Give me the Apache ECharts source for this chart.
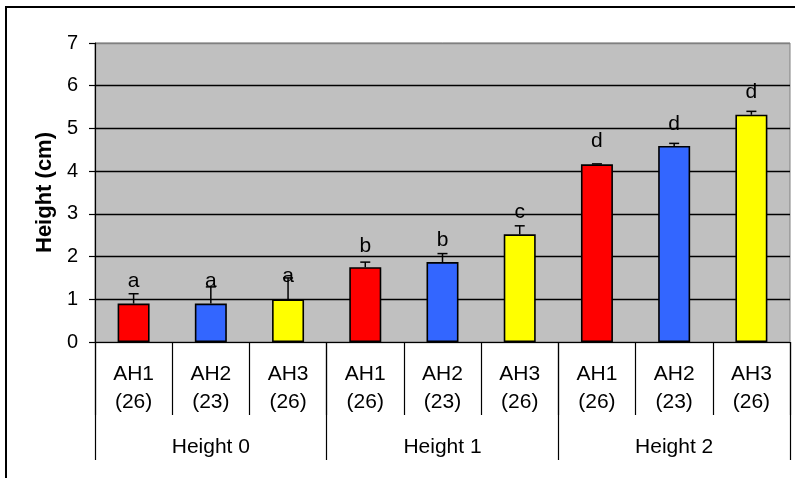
<!DOCTYPE html>
<html>
<head>
<meta charset="utf-8">
<script src="https://cdn.jsdelivr.net/npm/echarts@6/dist/echarts.min.js"></script>
<style>
    html, body { margin: 0; padding: 0; background: #fff; }
    #chart { width: 795px; height: 478px; }
</style>
</head>
<body>
<div id="chart"></div>
<script>
// data
var groups = ['Height 0', 'Height 1', 'Height 2'];
var lines = ['AH1', 'AH2', 'AH3', 'AH1', 'AH2', 'AH3', 'AH1', 'AH2', 'AH3'];
var counts = [26, 23, 26, 26, 23, 26, 26, 23, 26];
var means = [0.9, 0.9, 1.0, 1.75, 1.87, 2.52, 4.16, 4.59, 5.32];
var upper = [1.13, 1.29, 1.5, 1.87, 2.07, 2.72, 4.17, 4.65, 5.40];
var letters = ['a', 'a', 'a', 'b', 'b', 'c', 'd', 'd', 'd'];
var letterPos = [1.42, 1.42, 1.53, 2.25, 2.39, 3.04, 4.69, 5.1, 5.85];
var lineColors = {AH1: '#FF0000', AH2: '#3366FF', AH3: '#FFFF00'};
var yTicks = [0, 1, 2, 3, 4, 5, 6, 7];

var fontName = '"Liberation Sans", Arial, sans-serif';

var myChart = echarts.init(document.getElementById('chart'));

var categories = [];
var barData = [];
var errData = [];
var letterData = [];
lines.forEach(function (item, index) {
    categories.push(item + '\n(' + counts[index] + ')');
    barData.push({value: means[index], itemStyle: {color: lineColors[item]}});
    errData.push([index, means[index], upper[index]]);
    letterData.push([index, letterPos[index], letters[index]]);
});

// grid lines black, top edge grey like the plot border
var splitColors = yTicks.map(function (v, i) {
    return i === 0 || i === yTicks.length - 1 ? '#808080' : '#000';
});

var option = {
    animation: false,
    textStyle: {fontFamily: fontName},
    grid: {
        left: 95, right: 5, top: 43, bottom: 136,
        show: true,
        backgroundColor: '#C0C0C0',
        borderColor: '#808080',
        borderWidth: 1
    },
    graphic: [{
        type: 'rect',
        shape: {x: 6, y: 7, width: 820, height: 500},
        style: {fill: 'none', stroke: '#000', lineWidth: 2},
        silent: true
    }],
    xAxis: [{
        type: 'category',
        data: categories,
        position: 'bottom',
        axisLine: {show: true, lineStyle: {color: '#000', width: 1.2}},
        axisTick: {show: true, length: 73, interval: 0, lineStyle: {color: '#000', width: 1.2}},
        axisLabel: {
            interval: 0, margin: 18, color: '#000',
            fontSize: 21, lineHeight: 28, fontFamily: fontName
        }
    }, {
        type: 'category',
        data: groups,
        position: 'bottom',
        axisLine: {show: false},
        axisTick: {show: true, length: 118, interval: 0, lineStyle: {color: '#000', width: 1.2}},
        axisLabel: {
            interval: 0, margin: 95, color: '#000',
            fontSize: 21, lineHeight: 20, fontFamily: fontName
        }
    }],
    yAxis: {
        type: 'value',
        min: 0, max: 7, interval: 1,
        name: 'Height (cm)',
        nameLocation: 'middle',
        nameGap: 37,
        nameTextStyle: {color: '#000', fontSize: 22, fontWeight: 'bold', fontFamily: fontName},
        axisLine: {show: true, lineStyle: {color: '#000', width: 1.2}},
        axisTick: {show: true, length: 6, lineStyle: {color: '#000', width: 1.2}},
        axisLabel: {color: '#000', fontSize: 20, margin: 17, fontFamily: fontName},
        splitLine: {show: true, lineStyle: {color: splitColors, width: 1.3}}
    },
    series: [{
        type: 'bar',
        data: barData,
        barWidth: 32,
        itemStyle: {borderColor: '#000', borderWidth: 1.6}
    }, {
        // error bars, upper side only
        type: 'custom',
        data: errData,
        z: 5,
        renderItem: function (params, api) {
            var base = api.coord([api.value(0), api.value(1)]);
            var top = api.coord([api.value(0), api.value(2)]);
            var st = {stroke: '#000', lineWidth: 1.5};
            return {
                type: 'group',
                children: [
                    {type: 'line', shape: {x1: base[0], y1: base[1], x2: top[0], y2: top[1]}, style: st},
                    {type: 'line', shape: {x1: top[0] - 5, y1: top[1], x2: top[0] + 5, y2: top[1]}, style: st}
                ]
            };
        }
    }, {
        // significance letters
        type: 'custom',
        data: letterData,
        z: 6,
        renderItem: function (params, api) {
            var p = api.coord([api.value(0), api.value(1)]);
            return {
                type: 'text',
                x: p[0], y: p[1],
                style: {
                    text: letters[params.dataIndex],
                    fill: '#000',
                    font: '21px ' + fontName,
                    textAlign: 'center',
                    textVerticalAlign: 'middle'
                }
            };
        }
    }]
};

myChart.setOption(option);
</script>
</body>
</html>
